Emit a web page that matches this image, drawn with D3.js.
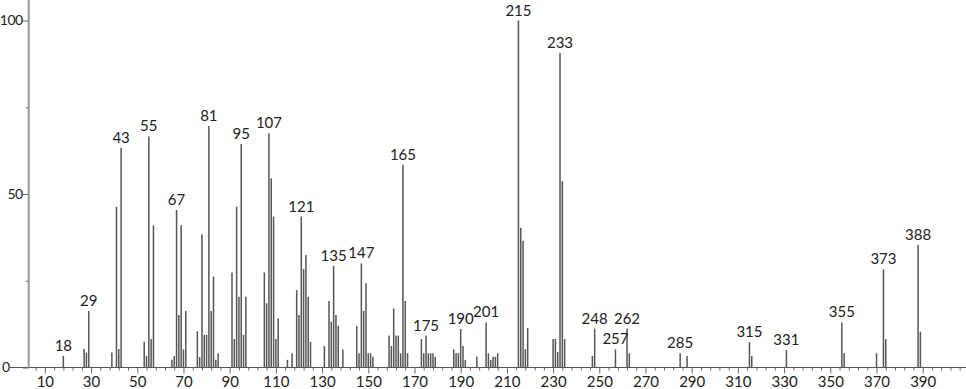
<!DOCTYPE html>
<html lang="en">
<head>
    <meta charset="UTF-8">
    <title>Mass spectrum</title>
    <style>
        body { margin: 0; background: #fff; }
        #graphArea text { font-family: "Lato", "DejaVu Sans", sans-serif; fill: #222; }
    </style>
</head>
<body>
    <div id="graphArea"></div>
    <script src="https://d3js.org/d3.v7.min.js"></script>
    <script>
        // m/z values and relative intensities
        const mz = [18, 27, 28, 29, 39, 41, 42, 43, 53, 54, 55, 56, 57,
            65, 66, 67, 68, 69, 70, 71, 76, 77, 78, 79, 80, 81, 82, 83, 84, 85,
            91, 92, 93, 94, 95, 96, 97, 105, 106, 107, 108, 109, 110, 111,
            115, 117, 119, 120, 121, 122, 123, 124, 125, 131, 133, 134, 135, 136, 137, 139,
            145, 146, 147, 148, 149, 150, 151, 152, 159, 160, 161, 162, 163, 164, 165, 166, 167,
            173, 174, 175, 176, 177, 178, 179, 187, 188, 189, 190, 191, 192, 197,
            201, 202, 203, 204, 205, 206, 215, 216, 217, 218, 219, 230, 231, 232, 233, 234, 235,
            247, 248, 257, 262, 263, 285, 288, 315, 316, 331, 355, 356, 370, 373, 374, 388, 389];
        const intensity = [3.3, 5.3, 4.3, 16.3, 4.3, 46.3, 5.3, 63.3, 7.4, 3.3, 66.6, 8.2, 41,
            2.2, 3.3, 45.4, 15.1, 41, 5.2, 16.3, 10.5, 3, 38.4, 9.4, 9.4, 69.6, 16.3, 26.2, 2.2, 4.1,
            27.4, 8.2, 46.3, 20.4, 64.4, 9.4, 20.4, 27.4, 18.5, 67.5, 54.5, 43.5, 8.2, 14.2,
            2.2, 4.1, 22.3, 15.1, 43.5, 28.4, 32.4, 20.4, 7.4, 6.2, 19.2, 13.2, 29.3, 15.1, 12, 5.2,
            12, 4.1, 30, 16.3, 24.3, 4.1, 4.1, 3.1, 9.2, 6.2, 17, 9.2, 9.2, 4.1, 58.4, 19.2, 4.1,
            8.2, 4.1, 9.2, 4.1, 4.1, 4.1, 3.1, 5.2, 4.1, 4.1, 11.1, 6.2, 2.2, 3.1,
            13, 4.1, 2.2, 3.1, 3.1, 4.1, 100, 40.3, 36.5, 5.3, 11.4, 8.2, 8.2, 4.5, 90.6, 53.7, 8.2,
            3.3, 11.2, 5.2, 11.2, 4.1, 4.1, 3.3, 7.3, 3.3, 5, 13, 4.1, 4.1, 28.3, 8.2, 35.3, 10.3];
        const labeledPeaks = [18, 29, 43, 55, 67, 81, 95, 107, 121, 135, 147, 165, 175, 190, 201,
            215, 233, 248, 257, 262, 285, 315, 331, 355, 373, 388];
        const xTickLabels = d3.range(10, 391, 20);
        const yTickLabels = [0, 50, 100];

        const drawGraph = () => {
            const width = 966, height = 389;
            const data = mz.map((m, i) => ({ mz: m, value: intensity[i] }));

            const svg = d3.select("#graphArea")
                .append("svg")
                .attr("width", width)
                .attr("height", height);

            const x = d3.scaleLinear().domain([3, 409]).range([28.7, 966.6]);
            const y = d3.scaleLinear().domain([0, 100]).range([367.5, 20.5]);

            // x axis: labelled ticks every 20, small ticks every 4
            const minor = d3.range(6, 409, 4).filter(v => !xTickLabels.includes(v));
            const xMinor = svg.append("g")
                .attr("transform", `translate(0, ${y(0)})`)
                .call(d3.axisBottom(x).tickValues(minor).tickSize(3).tickFormat(""));
            const xMajor = svg.append("g")
                .attr("transform", `translate(0, ${y(0)})`)
                .call(d3.axisBottom(x).tickValues(xTickLabels).tickSize(6).tickPadding(3));
            [xMinor, xMajor].forEach(g => {
                g.select(".domain").remove();
                g.selectAll("line").attr("stroke", "#666");
            });
            xMajor.selectAll("text").attr("font-size", "15px").attr("fill", "#222");
            svg.append("line")
                .attr("x1", 10).attr("x2", width)
                .attr("y1", y(0)).attr("y2", y(0))
                .attr("stroke", "#555").attr("stroke-width", 1);

            // y axis
            const yMinor = svg.append("g")
                .attr("transform", `translate(${x(3)}, 0)`)
                .call(d3.axisLeft(y).tickValues([25, 75]).tickSize(3).tickFormat(""));
            const yMajor = svg.append("g")
                .attr("transform", `translate(${x(3)}, 0)`)
                .call(d3.axisLeft(y).tickValues(yTickLabels).tickSize(6).tickPadding(0));
            [yMinor, yMajor].forEach(g => {
                g.select(".domain").remove();
                g.selectAll("line").attr("stroke", "#666");
            });
            yMajor.selectAll("text")
                .attr("font-size", "14px")
                .attr("letter-spacing", "-0.5px")
                .attr("fill", "#222");
            // the zero label sits left of the extended x axis line
            yMajor.selectAll(".tick").filter(d => d === 0).select("text").attr("x", -19);
            svg.append("line")
                .attr("x1", x(3)).attr("x2", x(3))
                .attr("y1", 0).attr("y2", y(0))
                .attr("stroke", "#999").attr("stroke-width", 2);

            // peaks
            svg.append("g")
                .selectAll("line")
                .data(data)
                .join("line")
                .attr("x1", d => x(d.mz))
                .attr("x2", d => x(d.mz))
                .attr("y1", y(0))
                .attr("y2", d => y(d.value))
                .attr("stroke", "#555")
                .attr("stroke-width", 1.5);

            // peak labels
            svg.append("g")
                .selectAll("text")
                .data(data.filter(d => labeledPeaks.includes(d.mz)))
                .join("text")
                .attr("x", d => x(d.mz))
                .attr("y", d => y(d.value) - 5)
                .attr("text-anchor", "middle")
                .attr("font-size", "15px")
                .text(d => d.mz);
        };

        drawGraph();
    </script>
</body>
</html>
